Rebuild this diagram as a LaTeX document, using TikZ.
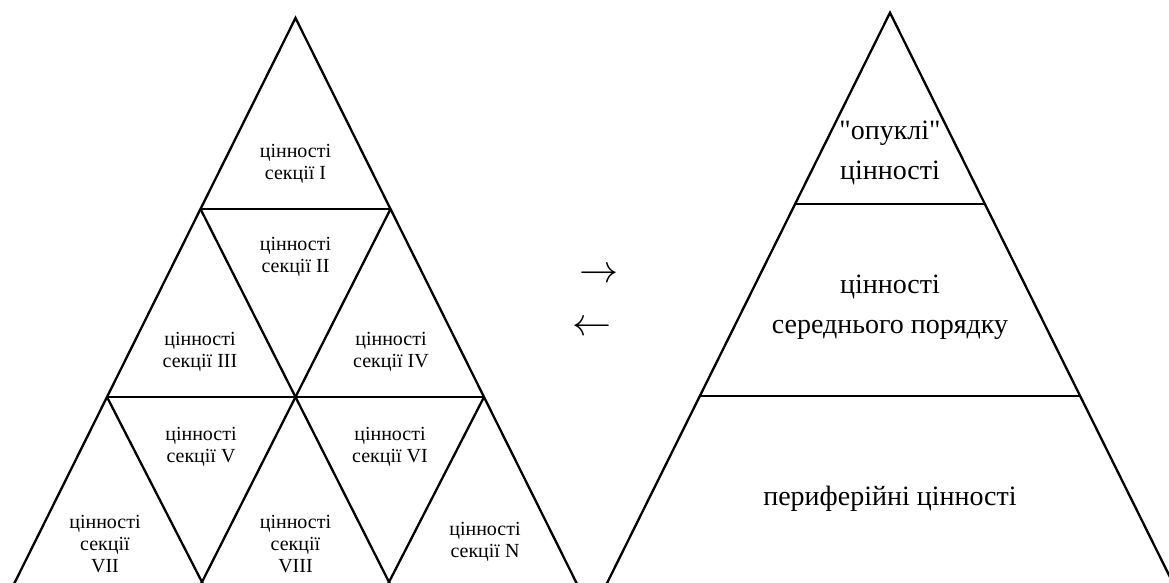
\documentclass[tikz,border=0pt]{standalone}
\usepackage{fontspec}
\usepackage{graphicx}
\setmainfont{Liberation Serif}[Ligatures=TeXOff]
\tikzset{
  edge/.style={line width=2.3pt, line join=miter},
  small/.style={align=center, inner sep=0pt, font=\fontsize{20}{22}\selectfont},
  big/.style={align=center, inner sep=0pt, font=\fontsize{28}{40}\selectfont},
  arr/.style={inner sep=0pt}
}
\begin{document}
\begin{tikzpicture}[x=1pt,y=-1pt]
\useasboundingbox (0,0) rectangle (1169,582);
\clip (0,0) rectangle (1169,582);
% left pyramid lattice
\coordinate (A) at (295.5,18);
\coordinate (P1) at (200.5,209);
\coordinate (P2) at (390.5,209);
\coordinate (Q1) at (107,397);
\coordinate (Q2) at (295.5,397);
\coordinate (Q3) at (484,397);
\coordinate (R1) at (15,582);
\coordinate (R2) at (202,582);
\coordinate (R3) at (389,582);
\coordinate (R4) at (576,582);
\coordinate (R1b) at (12,588);
\coordinate (R4b) at (579,588);
\draw[edge] (R1b) -- (A) -- (R4b);
\draw[edge] (P1) -- (P2);
\draw[edge] (Q1) -- (Q3);
\draw[edge] (P1) -- (Q2) -- ([shift={(1.5,3)}]R3);
\draw[edge] (P2) -- (Q2) -- ([shift={(-1.5,3)}]R2);
\draw[edge] (Q1) -- ([shift={(1.5,3)}]R2);
\draw[edge] (Q3) -- ([shift={(-1.5,3)}]R3);
% right pyramid
\coordinate (B) at (890,12.7);
\coordinate (S1) at (795,204.3);
\coordinate (S2) at (985,204.3);
\coordinate (T1) at (700,395.7);
\coordinate (T2) at (1080,395.7);
\coordinate (U1) at (604.6,588);
\coordinate (U2) at (1175.4,588);
\draw[edge] (U1) -- (B) -- (U2);
\draw[edge] (S1) -- (S2);
\draw[edge] (T1) -- (T2);
% left labels
\node[small] (tI) at (295.5,164) {цінності\\секції I};
\node[small] (tII) at (295.5,257) {цінності\\секції II};
\node[small] (tIII) at (200,352) {цінності\\секції III};
\node[small] (tIV) at (391,352) {цінності\\секції IV};
\node[small] (tV) at (201,447) {цінності\\секції V};
\node[small] (tVI) at (390,447) {цінності\\секції VI};
\node[small] (tVII) at (105,544) {цінності\\секції\\VII};
\node[small] (tVIII) at (295.5,544) {цінності\\секції\\VIII};
\node[small] (tN) at (485,542) {цінності\\секції N};
% right labels
\node[big] (r1) at (890,153) {"опуклі"\\цінності};
\node[big] (r2) at (890,307) {цінності\\середнього порядку};
\node[big] (r3) at (890,499) {периферійні цінності};
% arrows
\node[arr] (fwd) at (598.5,275) {\resizebox{39pt}{!}{$\rightarrow$}};
\node[arr] (bwd) at (592,328) {\resizebox{39pt}{!}{$\leftarrow$}};
\end{tikzpicture}
\end{document}
